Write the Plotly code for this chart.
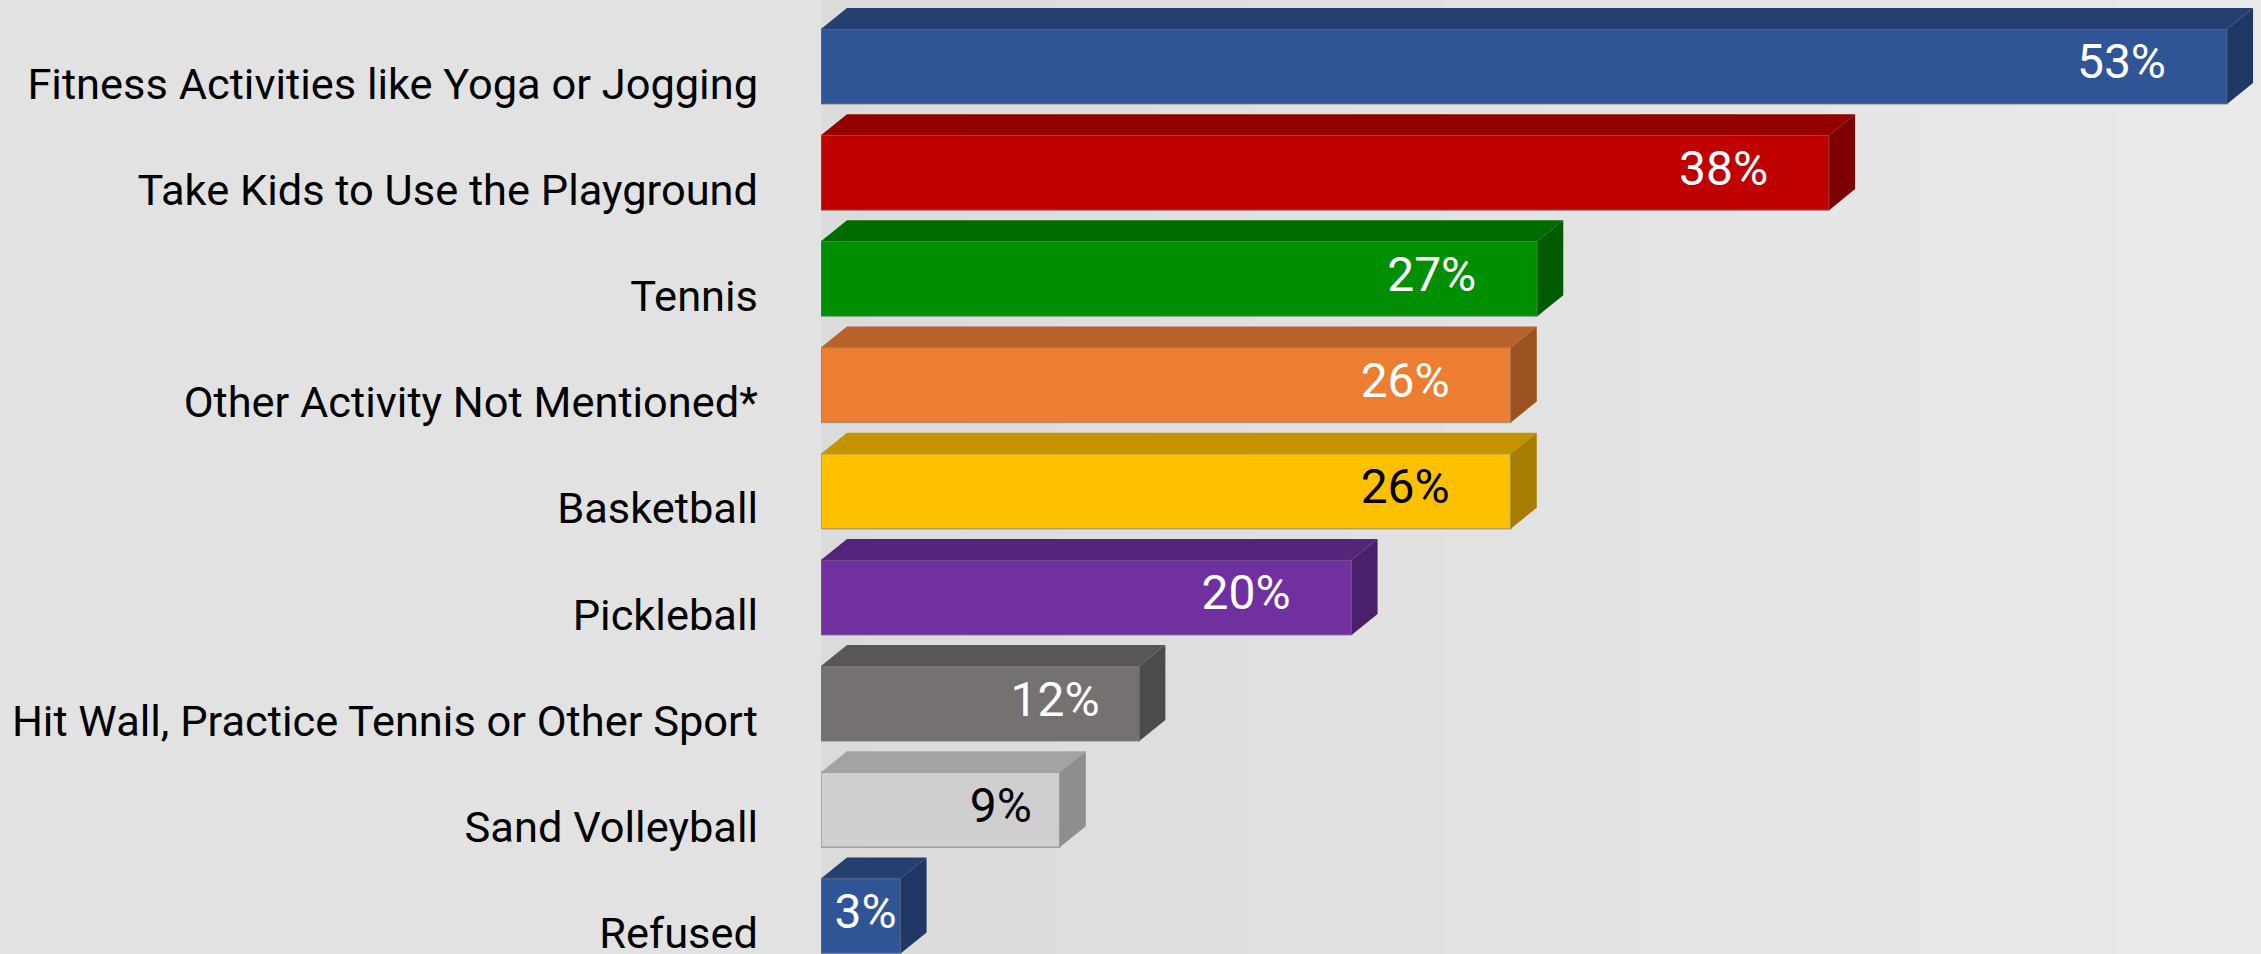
import plotly.graph_objects as go

categories = [
    "Fitness Activities like Yoga or Jogging",
    "Take Kids to Use the Playground",
    "Tennis",
    "Other Activity Not Mentioned*",
    "Basketball",
    "Pickleball",
    "Hit Wall, Practice Tennis or Other Sport",
    "Sand Volleyball",
    "Refused",
]
values = [53, 38, 27, 26, 26, 20, 12, 9, 3]

front_colors = ["#2F5597", "#C00000", "#008F00", "#ED7D31", "#FFC000", "#7030A0", "#767171", "#D0CECE", "#2F5597"]
top_colors = ["#243F70", "#940000", "#006C00", "#B8612A", "#C49300", "#55247B", "#5A5656", "#A4A2A2", "#243F70"]
side_colors = ["#1F3864", "#7E0000", "#005A00", "#9C5220", "#A67D00", "#4A1F6B", "#4E4B4B", "#8F8D8D", "#1F3864"]
label_colors = ["white", "white", "white", "white", "black", "white", "white", "black", "white"]

W, H = 2261, 954
BAR_W = 0.706      # bar thickness (category units)
DX = 0.98          # 3D depth in x (data units)
DY = 0.198         # 3D depth in y (category units)
FONT = "Roboto"

ypos = list(range(len(categories)))

fig = go.Figure()

fig.add_trace(go.Bar(
    x=values, y=ypos, orientation="h", width=BAR_W,
    marker=dict(color=front_colors, line=dict(color="rgba(120,120,120,0.55)", width=1.5)),
    hoverinfo="skip", showlegend=False,
))

label_x = [v - min(2.3, 0.15 * v - 0.3) for v in values]
fig.add_trace(go.Scatter(
    x=label_x, y=ypos, mode="text",
    text=[f"{v}%" for v in values], textposition="middle left",
    textfont=dict(family=FONT, size=48, color=label_colors),
    hoverinfo="skip", showlegend=False,
))

shapes = []
# background gradient bands
N = 60
c0, c1 = (219, 219, 219), (234, 234, 234)
for k in range(N):
    t = k / (N - 1)
    col = tuple(round(a + (b - a) * t) for a, b in zip(c0, c1))
    shapes.append(dict(type="rect", xref="paper", yref="paper",
                       x0=k / N, x1=(k + 1) / N + 0.001, y0=0, y1=1,
                       fillcolor="rgb(%d,%d,%d)" % col, line=dict(width=0), layer="below"))

# 3D top and side faces built from the data values
h = BAR_W / 2
for i, v in enumerate(values):
    ytop = i - h
    ybot = i + h
    top_path = f"M 0,{ytop} L {DX},{ytop - DY} L {v + DX},{ytop - DY} L {v},{ytop} Z"
    side_path = f"M {v},{ytop} L {v + DX},{ytop - DY} L {v + DX},{ybot - DY} L {v},{ybot} Z"
    shapes.append(dict(type="path", xref="x", yref="y", path=top_path,
                       fillcolor=top_colors[i], line=dict(width=0), layer="above"))
    shapes.append(dict(type="path", xref="x", yref="y", path=side_path,
                       fillcolor=side_colors[i], line=dict(width=0), layer="above"))

fig.update_layout(
    width=W, height=H,
    margin=dict(l=821, r=0, t=0, b=0),
    paper_bgcolor="#e2e2e2", plot_bgcolor="rgba(0,0,0,0)",
    shapes=shapes,
    xaxis=dict(range=[0, 54.28], visible=False, fixedrange=True),
    yaxis=dict(range=[8.358, -0.626], tickvals=[p + 0.16 for p in ypos], ticktext=categories,
               showgrid=False, zeroline=False, showline=False, ticks="",
               ticklabelstandoff=62, automargin=False, ticklabeloverflow="allow",
               tickfont=dict(family=FONT, size=43.4, color="black"), fixedrange=True),
    font=dict(family=FONT),
    showlegend=False,
)

fig.write_html("out.html", config={"displayModeBar": False},
               post_script="document.body.style.margin='0';document.body.style.overflow='hidden';")
